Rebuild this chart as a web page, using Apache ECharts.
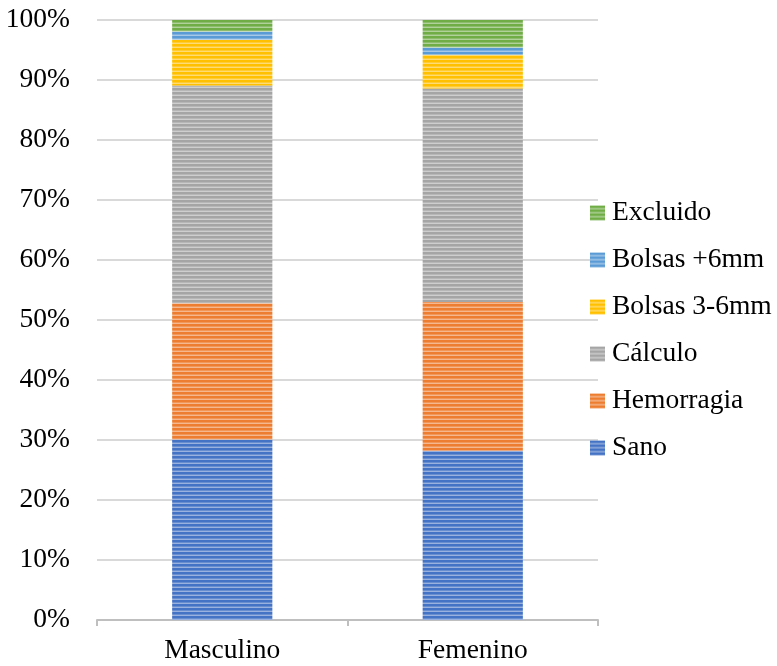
<!DOCTYPE html>
<html>
<head>
<meta charset="utf-8">
<script src="https://cdn.jsdelivr.net/npm/echarts@6/dist/echarts.min.js"></script>
<style>
  html, body { margin: 0; padding: 0; background: #fff; }
  #chart { width: 777px; height: 666px; }
</style>
</head>
<body>
<div id="chart"></div>
<script>
// Categories and stacked shares (percent of each group)
const categories = ['Masculino', 'Femenino'];
const sano       = [30.1, 28.2];
const hemorragia = [22.7, 24.8];
const calculo    = [36.3, 35.6];
const bolsas36   = [7.6, 5.6];
const bolsas6    = [1.4, 1.2];
const excluido   = [1.9, 4.6];

const seriesNames = ['Sano', 'Hemorragia', 'Cálculo', 'Bolsas 3-6mm', 'Bolsas +6mm', 'Excluido'];
const seriesData = [sano, hemorragia, calculo, bolsas36, bolsas6, excluido];
const seriesColors = ['#4472C4', '#ED7D31', '#A5A5A5', '#FFC000', '#5B9BD5', '#70AD47'];

function mixWhite(hex, t) {
  const n = parseInt(hex.slice(1), 16);
  const r = (n >> 16) & 255, g = (n >> 8) & 255, b = n & 255;
  const m = c => Math.round(c + (255 - c) * t);
  return 'rgb(' + m(r) + ',' + m(g) + ',' + m(b) + ')';
}

// Horizontal striped fill: a solid row band and a lighter band, 4px period
function stripes(hex) {
  const c = document.createElement('canvas');
  c.width = 4; c.height = 4;
  const ctx = c.getContext('2d');
  ctx.fillStyle = mixWhite(hex, 0.45);
  ctx.fillRect(0, 0, 4, 4);
  ctx.fillStyle = hex;
  ctx.fillRect(0, 0, 4, 2);
  ctx.fillStyle = mixWhite(hex, 0.2);
  ctx.fillRect(0, 2, 4, 1);
  return { image: c, repeat: 'repeat' };
}

const font = '"Liberation Serif", "Times New Roman", serif';
const fs = 27.5;
const chart = echarts.init(document.getElementById('chart'), null, { renderer: 'canvas' });

chart.setOption({
  animation: false,
  backgroundColor: '#fff',
  grid: { left: 97, right: 179, top: 20, bottom: 46, containLabel: false },
  legend: {
    orient: 'vertical',
    left: 585,
    top: 194,
    itemWidth: 15,
    itemHeight: 15,
    itemGap: 19,
    icon: 'rect',
    data: seriesNames.slice().reverse(),
    textStyle: { fontFamily: font, fontSize: fs, color: '#000', lineHeight: 24, padding: [0, 0, 0, 2] }
  },
  xAxis: {
    type: 'category',
    data: categories,
    boundaryGap: true,
    axisLine: { lineStyle: { color: '#BFBFBF', width: 2 } },
    axisTick: { show: true, length: 6, lineStyle: { color: '#BFBFBF', width: 2 } },
    axisLabel: { fontFamily: font, fontSize: fs, color: '#000', margin: 17 }
  },
  yAxis: {
    type: 'value',
    min: 0,
    max: 100,
    interval: 10,
    axisLine: { show: false },
    axisTick: { show: false },
    splitLine: { lineStyle: { color: '#D9D9D9', width: 2 } },
    axisLabel: { fontFamily: font, fontSize: fs, color: '#000', margin: 27, formatter: '{value}%' }
  },
  series: seriesNames.map((name, i) => ({
    name: name,
    type: 'bar',
    stack: 'total',
    barWidth: '40%',
    data: seriesData[i],
    itemStyle: { color: stripes(seriesColors[i]) },
    emphasis: { disabled: true }
  }))
});
</script>
</body>
</html>
